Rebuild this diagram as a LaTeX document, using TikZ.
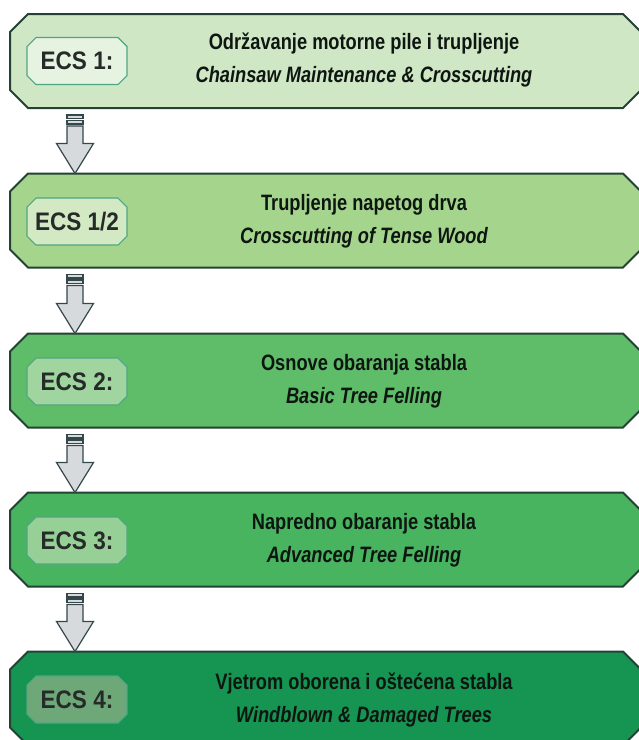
\documentclass[tikz,border=0pt]{standalone}
\usepackage{fontspec}
\setmainfont{Liberation Sans}
\newfontfamily\ecsfont[FakeStretch=0.89]{Liberation Sans}
\newfontfamily\titlefont[FakeStretch=0.82]{Liberation Sans}
\usepackage{tikz}
\usetikzlibrary{calc, backgrounds}
\definecolor{edge}{RGB}{35,66,52}
\definecolor{tagedge}{RGB}{80,165,130}
\definecolor{ink}{RGB}{14,22,18}
\definecolor{tagtext}{RGB}{38,42,40}
\definecolor{arrowfill}{RGB}{215,218,220}
\definecolor{arrowedge}{RGB}{52,72,76}
\definecolor{stageA}{RGB}{207,231,196}
\definecolor{stageB}{RGB}{165,213,140}
\definecolor{stageC}{RGB}{95,188,105}
\definecolor{stageD}{RGB}{72,180,95}
\definecolor{stageE}{RGB}{22,148,82}
\definecolor{tagA}{RGB}{230,243,225}
\definecolor{tagB}{RGB}{210,233,195}
\definecolor{tagC}{RGB}{160,213,160}
\definecolor{tagD}{RGB}{150,208,150}
\definecolor{tagE}{RGB}{110,168,120}
% octagon round a node, #2 = chamfer
\newcommand\chamferpath[2]{($(#1.north west)+(#2,0)$) -- ($(#1.north east)+(-#2,0)$) -- ($(#1.north east)+(0,#2)$) -- ($(#1.south east)+(0,-#2)$) -- ($(#1.south east)+(-#2,0)$) -- ($(#1.south west)+(#2,0)$) -- ($(#1.south west)+(0,-#2)$) -- ($(#1.north west)+(0,#2)$) -- cycle}

\begin{document}
\begin{tikzpicture}[x=0.75pt, y=-0.75pt,
  stage/.style={minimum width=473.25pt, minimum height=70.5pt, inner sep=0pt, outer sep=0pt},
  tag/.style={minimum width=75pt, minimum height=35.25pt, inner sep=0pt, outer sep=0pt,
    text=tagtext, font=\ecsfont\bfseries\fontsize{19}{22}\selectfont},
  title/.style={align=center, text=ink, font=\titlefont\bfseries\fontsize{16.7}{24.75}\selectfont},
  stageline/.style={draw=edge, line width=1.5pt, line join=miter},
  tagline/.style={draw=tagedge, line width=0.8pt},
  arrowbody/.style={draw=arrowedge, fill=arrowfill, line width=0.9pt, line join=miter}]
\useasboundingbox (0,0) rectangle (639,740);
% stages
\node[stage] (b1) at (325.5,61) {};
\node[stage] (b2) at (325.5,220.5) {};
\node[stage] (b3) at (325.5,380.5) {};
\node[stage] (b4) at (325.5,539.5) {};
\node[stage] (b5) at (325.5,698.5) {};
\node[tag] (t1) at (77,61) {ECS 1:};
\node[tag] (t2) at (77,221.5) {ECS 1/2};
\node[tag] (t3) at (77,381.5) {ECS 2:};
\node[tag] (t4) at (77,540.5) {ECS 3:};
\node[tag] (t5) at (77,699.5) {ECS 4:};
\node[title] (m1) at (364,60) {Održavanje motorne pile i trupljenje\\\itshape Chainsaw Maintenance \& Crosscutting};
\node[title] (m2) at (364,221.5) {Trupljenje napetog drva\\\itshape Crosscutting of Tense Wood};
\node[title] (m3) at (364,381.5) {Osnove obaranja stabla\\\itshape Basic Tree Felling};
\node[title] (m4) at (364,540.5) {Napredno obaranje stabla\\\itshape Advanced Tree Felling};
\node[title] (m5) at (364,699.5) {Vjetrom oborena i oštećena stabla\\\itshape Windblown \& Damaged Trees};
\begin{scope}[on background layer]
\fill[white] (0,0) rectangle (639,740);
\draw[stageline, fill=stageA] \chamferpath{b1}{18};
\draw[stageline, fill=stageB] \chamferpath{b2}{18};
\draw[stageline, fill=stageC] \chamferpath{b3}{18};
\draw[stageline, fill=stageD] \chamferpath{b4}{18};
\draw[stageline, fill=stageE] \chamferpath{b5}{18};
\draw[tagline, fill=tagA] \chamferpath{t1}{9};
\draw[tagline, fill=tagB] \chamferpath{t2}{9};
\draw[tagline, fill=tagC] \chamferpath{t3}{9};
\draw[tagline, fill=tagD] \chamferpath{t4}{9};
\draw[tagline, fill=tagE] \chamferpath{t5}{9};
\end{scope}
% arrows
\coordinate (ax) at (75,0);
\draw[arrowbody] ($(b1.south -| ax)+(-8,18)$) -- ($(b2.north -| ax)+(-8,-30)$) -- ++(-10.5,0) -- (b2.north -| ax) -- ++(18.5,-30) -- ++(-10.5,0) -- ($(b1.south -| ax)+(8,18)$) -- cycle;
\draw[arrowbody] ($(b1.south -| ax)+(-8,7)$) rectangle ++(16,3.5);
\draw[arrowbody] ($(b1.south -| ax)+(-8,12.5)$) rectangle ++(16,3.5);
\draw[arrowbody] ($(b2.south -| ax)+(-8,18)$) -- ($(b3.north -| ax)+(-8,-30)$) -- ++(-10.5,0) -- (b3.north -| ax) -- ++(18.5,-30) -- ++(-10.5,0) -- ($(b2.south -| ax)+(8,18)$) -- cycle;
\draw[arrowbody] ($(b2.south -| ax)+(-8,7)$) rectangle ++(16,3.5);
\draw[arrowbody] ($(b2.south -| ax)+(-8,12.5)$) rectangle ++(16,3.5);
\draw[arrowbody] ($(b3.south -| ax)+(-8,18)$) -- ($(b4.north -| ax)+(-8,-30)$) -- ++(-10.5,0) -- (b4.north -| ax) -- ++(18.5,-30) -- ++(-10.5,0) -- ($(b3.south -| ax)+(8,18)$) -- cycle;
\draw[arrowbody] ($(b3.south -| ax)+(-8,7)$) rectangle ++(16,3.5);
\draw[arrowbody] ($(b3.south -| ax)+(-8,12.5)$) rectangle ++(16,3.5);
\draw[arrowbody] ($(b4.south -| ax)+(-8,18)$) -- ($(b5.north -| ax)+(-8,-30)$) -- ++(-10.5,0) -- (b5.north -| ax) -- ++(18.5,-30) -- ++(-10.5,0) -- ($(b4.south -| ax)+(8,18)$) -- cycle;
\draw[arrowbody] ($(b4.south -| ax)+(-8,7)$) rectangle ++(16,3.5);
\draw[arrowbody] ($(b4.south -| ax)+(-8,12.5)$) rectangle ++(16,3.5);
\end{tikzpicture}
\end{document}
